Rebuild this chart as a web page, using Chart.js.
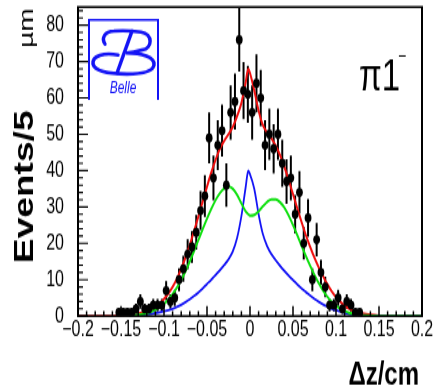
<!DOCTYPE html>
<html>
<head>
<meta charset="utf-8">
<script src="https://cdn.jsdelivr.net/npm/chart.js@4.4.0/dist/chart.umd.min.js"></script>
<style>
  html, body { margin: 0; padding: 0; background: #fff; overflow: hidden; }
  #plot { display: block; }
</style>
</head>
<body>
<!-- the figure is printed taller than it was drawn: a 437x289 drawing shown at 437x390 -->
<canvas id="plot" width="437" height="289" style="width:437px;height:390px"></canvas>
<script>
const S = 390 / 289;

// measured Δz distribution, bin centres (cm) and counts
const dataX = [
  -0.1525, -0.1475, -0.1425, -0.1375, -0.1325, -0.1275, -0.1225, -0.1175, -0.1125, -0.1075,
  -0.1025, -0.0975, -0.0925, -0.0875, -0.0825, -0.0775, -0.0725, -0.0675, -0.0625, -0.0575,
  -0.0525, -0.0475, -0.0425, -0.0375, -0.0325, -0.0275, -0.0225, -0.0175, -0.0125, -0.0075,
  -0.0025, 0.0025, 0.0075, 0.0125, 0.0175, 0.0225, 0.0275, 0.0325, 0.0375, 0.0425,
  0.0475, 0.0525, 0.0575, 0.0625, 0.0675, 0.0725, 0.0775, 0.0825, 0.0875, 0.0925,
  0.0975, 0.1025, 0.1075, 0.1125, 0.1175, 0.1225, 0.1275
];
const dataCounts = [
  1, 1, 1, 1, 2, 4, 2, 2, 3, 3,
  3, 7, 4, 5, 10, 13, 17, 19, 23, 29,
  33, 49, 38, 47, 51, 36, 56, 59, 76, 62,
  61, 56, 64, 60, 47, 50, 46, 50, 42, 37,
  38, 28, 34, 20, 27, 10, 21, 12, 8, 3,
  3, 5, 2, 4, 3, 1, 1
];

// fitted curves sampled along Δz
const curveX = [
  -0.2, -0.175, -0.15, -0.14, -0.13,
  -0.125, -0.12, -0.115, -0.11, -0.105, -0.1, -0.095, -0.09, -0.085, -0.08,
  -0.075, -0.07, -0.065, -0.06, -0.055, -0.05, -0.045, -0.04, -0.035, -0.03,
  -0.025, -0.02, -0.015, -0.01, -0.005, -0.002, 0,
  0.005, 0.01, 0.015, 0.02, 0.025, 0.03, 0.035, 0.04, 0.045, 0.05,
  0.055, 0.06, 0.065, 0.07, 0.075, 0.08, 0.085, 0.09, 0.095, 0.1,
  0.105, 0.11, 0.115, 0.12, 0.125,
  0.13, 0.14, 0.15, 0.175, 0.2
];
const fitTotal = [
  0, 0, 0.1, 0.3, 0.7,
  1.0, 1.4, 1.9, 2.6, 3.5, 4.7, 6.2, 8.0, 10.3, 13.0,
  16.1, 19.6, 23.4, 27.4, 31.5, 35.6, 39.5, 43.0, 46.0, 48.2,
  50.0, 52.0, 55.0, 58.6, 64.3, 68.0, 66.8,
  62.0, 56.5, 52.5, 50.5, 48.8, 46.8, 44.2, 41.0, 37.4, 33.5,
  29.6, 25.8, 22.2, 19.0, 16.0, 13.3, 10.9, 8.7, 6.8, 5.2,
  3.9, 2.9, 2.1, 1.5, 1.0,
  0.7, 0.3, 0.1, 0, 0
];
const fitSignal = [
  null, null, null, 0.1, 0.3,
  0.5, 0.8, 1.2, 1.7, 2.4, 3.3, 4.5, 6.0, 7.8, 9.9,
  12.3, 15.0, 17.9, 20.9, 23.9, 26.8, 29.5, 31.9, 33.8, 35.1,
  35.6, 35.0, 33.3, 31.0, 28.8, 28.0, 27.6,
  27.8, 28.8, 30.2, 31.4, 32.1, 32.1, 31.3, 29.8, 27.6, 25.0,
  22.2, 19.3, 16.5, 13.8, 11.3, 9.0, 7.0, 5.3, 3.9, 2.8,
  2.0, 1.4, 0.9, 0.6, 0.4,
  0.2, 0.1, 0, 0, 0
];
const fitPrompt = [
  null, null, null, 0.1, 0.3,
  0.4, 0.5, 0.6, 0.8, 1.0, 1.3, 1.6, 2.0, 2.5, 3.1,
  3.8, 4.6, 5.5, 6.5, 7.6, 8.8, 10.0, 11.3, 12.6, 14.0,
  15.6, 17.8, 21.5, 27.5, 35.5, 40.0, 39.0,
  35.0, 28.0, 22.5, 19.2, 17.0, 15.3, 13.8, 12.4, 11.1, 9.9,
  8.7, 7.6, 6.6, 5.6, 4.7, 3.9, 3.2, 2.6, 2.0, 1.6,
  1.2, 0.9, 0.6, 0.4, 0.3,
  0.2, 0.1, 0, 0, 0
];

const xTickValues = [-0.2, -0.15, -0.1, -0.05, 0, 0.05, 0.1, 0.15, 0.2];
const xTickLabels = ['\u22120.2', '\u22120.15', '\u22120.1', '\u22120.05', '0', '0.05', '0.1', '0.15', '0.2'];
const yTickValues = [0, 10, 20, 30, 40, 50, 60, 70, 80];
const yTickLabels = ['0', '10', '20', '30', '40', '50', '60', '70', '80'];

const FONT = "'Liberation Sans', Arial, sans-serif";
Chart.defaults.font.family = FONT;
Chart.defaults.color = '#000';

const pairs = (xs, ys) => xs.map((x, i) => ({ x: x, y: ys[i] }));

// error bars (sqrt N) under the data points
const errorBars = {
  id: 'errorBars',
  beforeDatasetsDraw(chart) {
    const { ctx, chartArea, scales } = chart;
    ctx.save();
    ctx.beginPath();
    ctx.rect(chartArea.left, chartArea.top, chartArea.width, chartArea.height);
    ctx.clip();
    ctx.scale(1, 1 / S);
    ctx.strokeStyle = '#000';
    ctx.lineWidth = 2;
    dataX.forEach((x, i) => {
      const n = dataCounts[i];
      const err = Math.sqrt(n);
      const px = scales.x.getPixelForValue(x);
      ctx.beginPath();
      ctx.moveTo(px, scales.y.getPixelForValue(n - err) * S);
      ctx.lineTo(px, scales.y.getPixelForValue(n + err) * S);
      ctx.stroke();
    });
    ctx.restore();
  }
};

// frame with inward ticks, logo and labels
const decorations = {
  id: 'decorations',
  afterDraw(chart) {
    const { ctx, chartArea: a, scales } = chart;
    const top = a.top * S, bottom = a.bottom * S;
    ctx.save();
    ctx.scale(1, 1 / S);
    ctx.strokeStyle = '#000';
    ctx.lineWidth = 2;
    ctx.strokeRect(a.left, top, a.right - a.left, bottom - top);

    ctx.lineWidth = 1.5;
    ctx.beginPath();
    for (let i = -20; i <= 20; i++) {
      const px = scales.x.getPixelForValue(i / 100);
      const len = i % 5 === 0 ? 10 : 5;
      ctx.moveTo(px, bottom);
      ctx.lineTo(px, bottom - len);
    }
    for (let v = 0; v <= 84; v += 2) {
      const py = scales.y.getPixelForValue(v) * S;
      const len = v % 10 === 0 ? 10 : 5;
      ctx.moveTo(a.left, py);
      ctx.lineTo(a.left + len, py);
    }
    ctx.stroke();

    // Belle logo box
    ctx.strokeStyle = '#1414f5';
    ctx.lineWidth = 2;
    ctx.beginPath();
    ctx.moveTo(89, 100);
    ctx.lineTo(89, 20);
    ctx.lineTo(158, 20);
    ctx.lineTo(158, 100);
    ctx.stroke();

    // script B
    ctx.lineWidth = 3.5;
    ctx.lineCap = 'round';
    ctx.beginPath();
    ctx.moveTo(105, 44);
    ctx.bezierCurveTo(101, 38, 105, 31, 114, 31);
    ctx.bezierCurveTo(125, 30, 134, 31, 141, 32);
    ctx.bezierCurveTo(153, 34, 153, 48, 142, 50);
    ctx.bezierCurveTo(136, 52, 130, 53, 126, 53);
    ctx.bezierCurveTo(142, 53, 155, 57, 154, 65);
    ctx.bezierCurveTo(153, 72, 140, 74, 127, 74);
    ctx.bezierCurveTo(112, 74, 95, 72, 93, 64);
    ctx.bezierCurveTo(92, 56, 104, 52, 118, 55);
    ctx.stroke();
    ctx.beginPath();
    ctx.moveTo(132, 31);
    ctx.lineTo(117, 73);
    ctx.stroke();
    ctx.restore();

    ctx.save();
    ctx.fillStyle = '#1414f5';
    ctx.font = 'italic 12px ' + FONT;
    ctx.textAlign = 'center';
    ctx.textBaseline = 'middle';
    ctx.fillText('Belle', 123, 88 / S);

    // decay mode label
    ctx.fillStyle = '#000';
    ctx.textAlign = 'left';
    ctx.textBaseline = 'alphabetic';
    ctx.font = '33px ' + FONT;
    ctx.fillText('\u03c01', 359, 90 / S);
    ctx.font = '14px ' + FONT;
    ctx.fillText('\u2212', 398, 62 / S);

    // axis titles
    ctx.font = 'bold 24px ' + FONT;
    ctx.textAlign = 'right';
    ctx.fillText('\u0394z/cm', 419, 385 / S);

    ctx.translate(33, 263 / S);
    ctx.rotate(-Math.PI / 2);
    ctx.textAlign = 'left';
    ctx.font = 'bold 27.5px ' + FONT;
    ctx.fillText('Events/5', 0, 0);
    ctx.font = '21px ' + FONT;
    ctx.fillText('\u00b5m', (263 - 48) / S, 0);
    ctx.restore();
  }
};

new Chart(document.getElementById('plot'), {
  type: 'scatter',
  data: {
    datasets: [
      {
        label: 'data',
        data: pairs(dataX, dataCounts),
        pointRadius: 3.4,
        pointBackgroundColor: '#000',
        pointBorderWidth: 0,
        showLine: false,
        order: 0
      },
      {
        label: 'signal',
        data: pairs(curveX, fitSignal),
        showLine: true,
        borderColor: '#10e010',
        borderWidth: 2,
        pointRadius: 0,
        cubicInterpolationMode: 'monotone',
        order: 1
      },
      {
        label: 'prompt',
        data: pairs(curveX, fitPrompt),
        showLine: true,
        borderColor: '#1414f5',
        borderWidth: 1.8,
        pointRadius: 0,
        cubicInterpolationMode: 'monotone',
        order: 2
      },
      {
        label: 'total',
        data: pairs(curveX, fitTotal),
        showLine: true,
        borderColor: '#f01010',
        borderWidth: 2,
        pointRadius: 0,
        cubicInterpolationMode: 'monotone',
        order: 3
      }
    ]
  },
  options: {
    responsive: false,
    animation: false,
    layout: { padding: { top: 7 / S, right: 15, left: 0, bottom: 0 } },
    plugins: { legend: { display: false }, tooltip: { enabled: false } },
    scales: {
      x: {
        type: 'linear',
        min: -0.2,
        max: 0.2,
        grid: { display: false, drawTicks: false },
        border: { display: false },
        afterBuildTicks: s => { s.ticks = xTickValues.map(v => ({ value: v })); },
        afterFit: s => {
          s.height = 289 - 316 / S;
          s.paddingLeft = 0;
          s.paddingRight = 0;
        },
        ticks: {
          autoSkip: false,
          maxRotation: 0,
          padding: 1,
          font: { size: 16 },
          callback: (v, i) => xTickLabels[i]
        }
      },
      y: {
        type: 'linear',
        min: 0,
        max: 85,
        grid: { display: false, drawTicks: false },
        border: { display: false },
        afterBuildTicks: s => { s.ticks = yTickValues.map(v => ({ value: v })); },
        afterFit: s => {
          s.width = 78;
          s.paddingTop = 0;
          s.paddingBottom = 0;
        },
        ticks: {
          padding: 14,
          font: { size: 16 },
          callback: (v, i) => yTickLabels[i]
        }
      }
    }
  },
  plugins: [errorBars, decorations]
});
</script>
</body>
</html>
